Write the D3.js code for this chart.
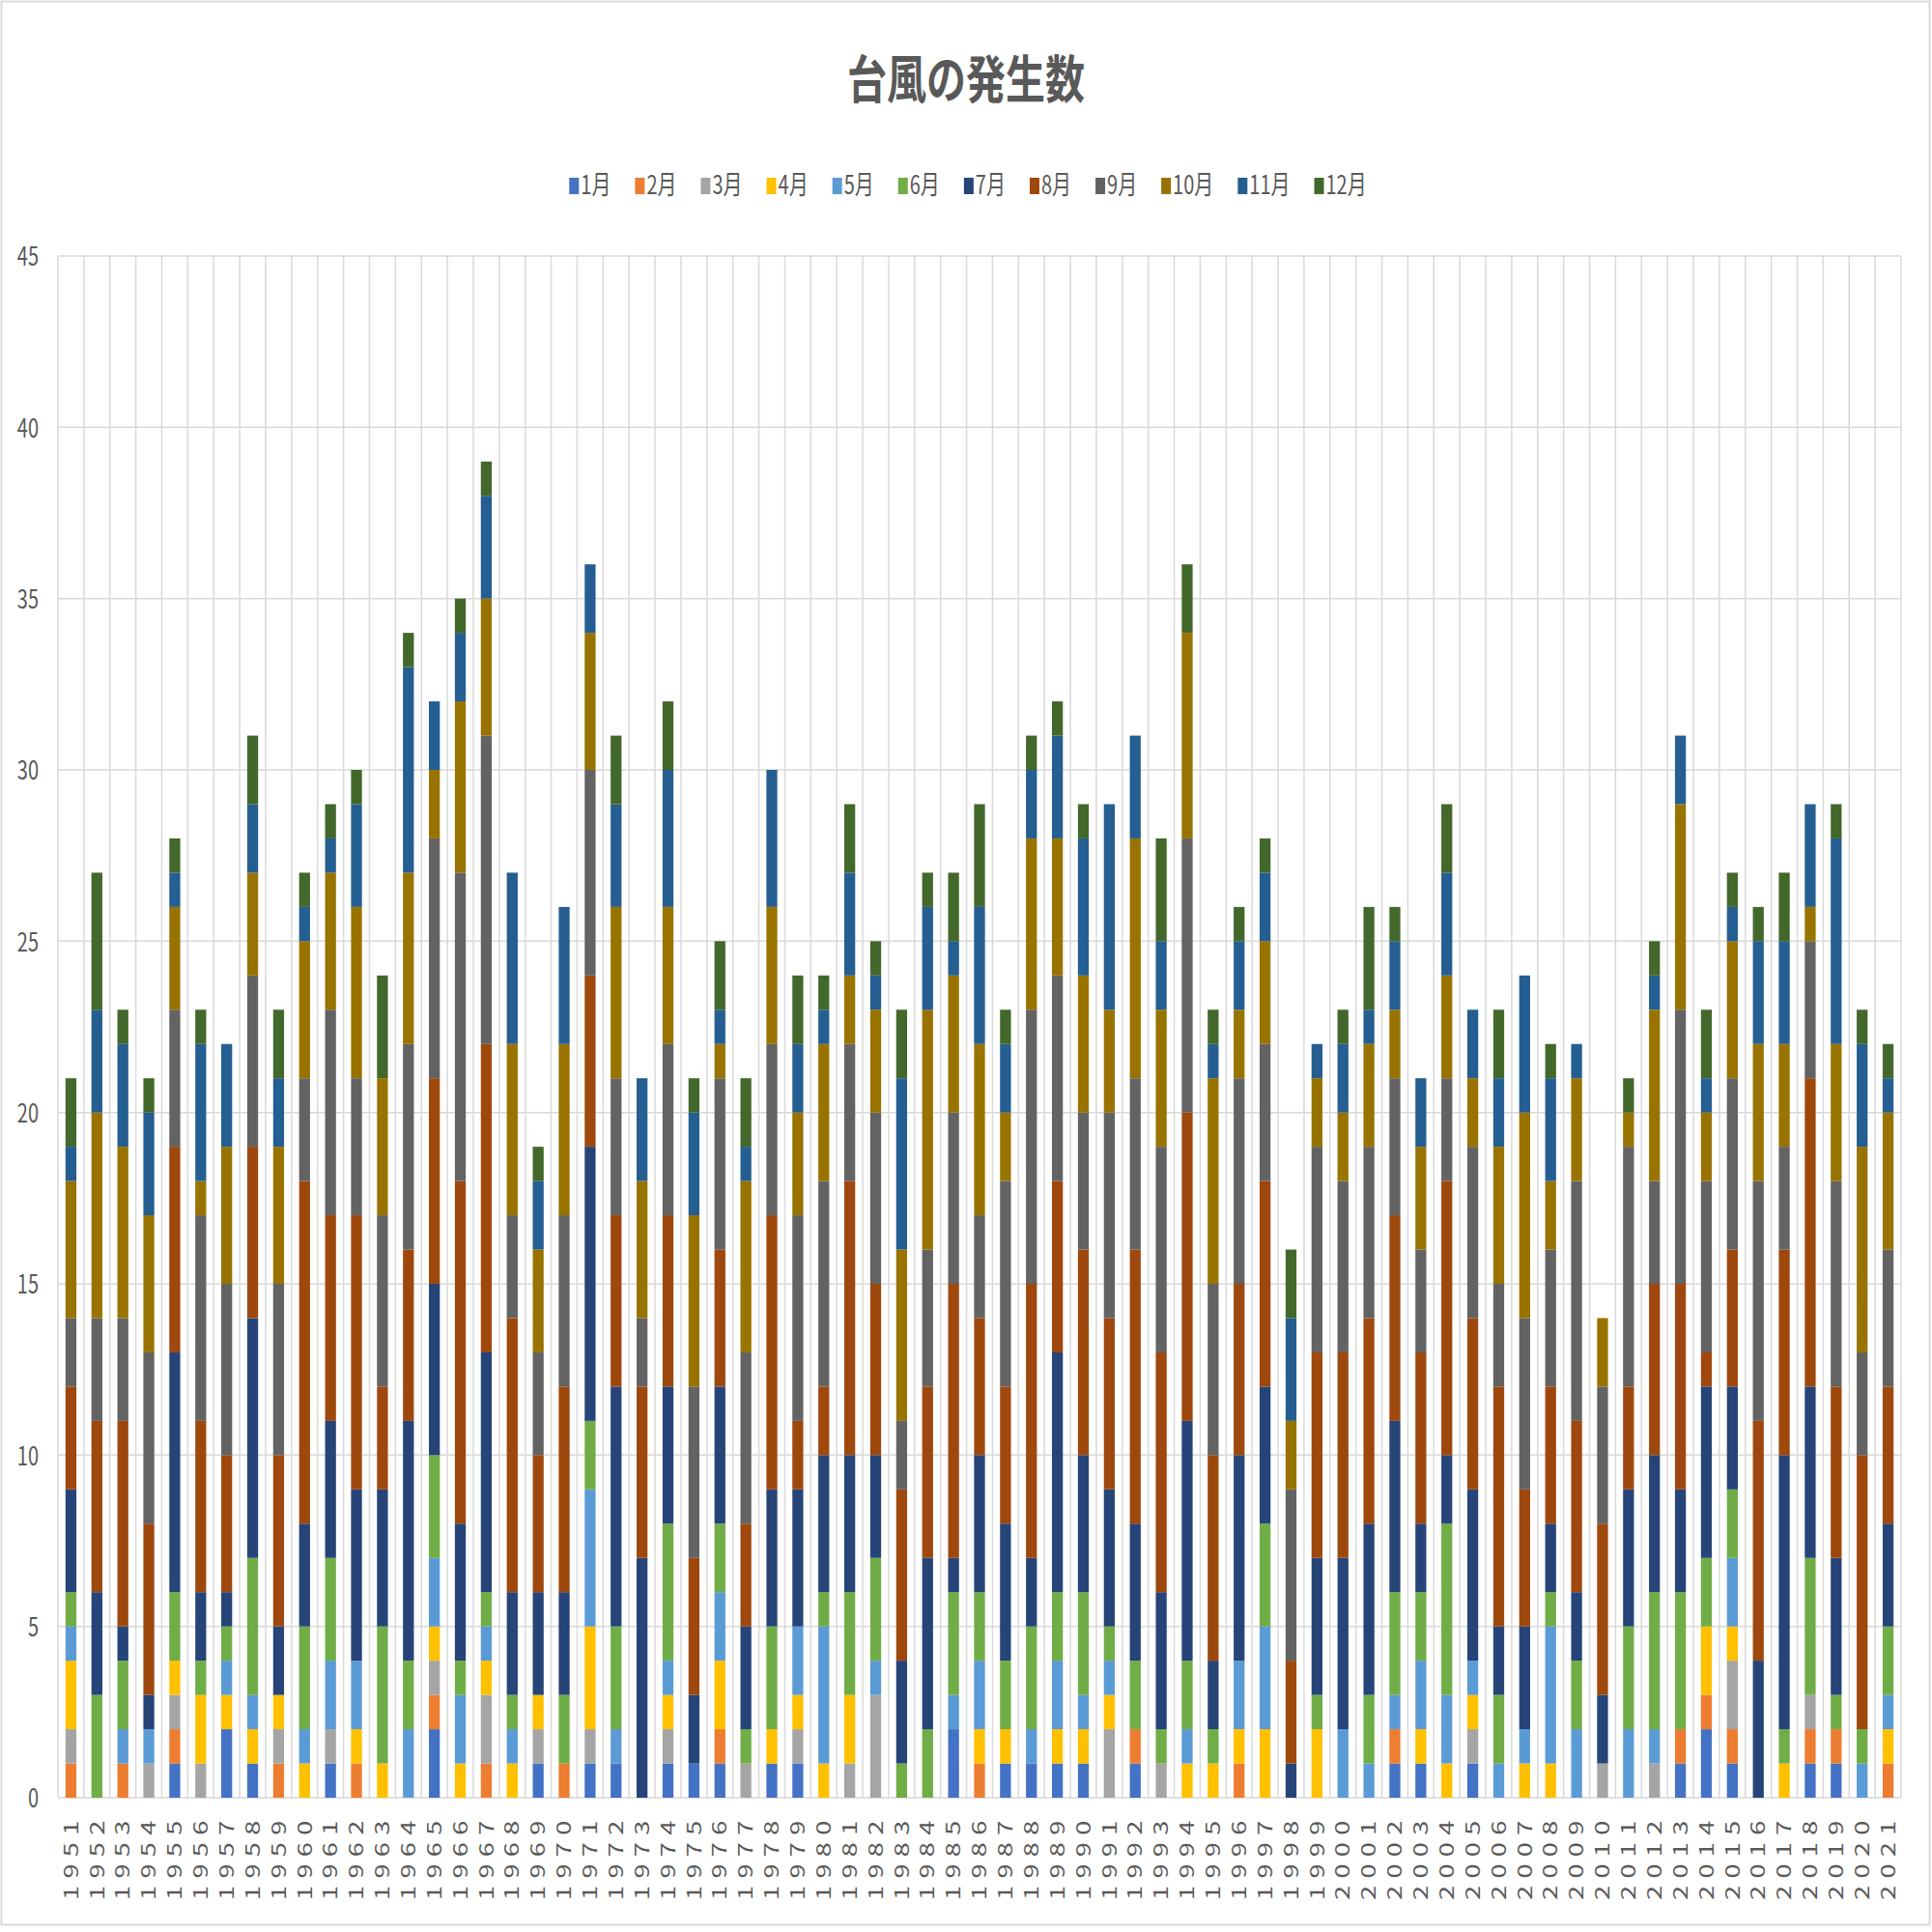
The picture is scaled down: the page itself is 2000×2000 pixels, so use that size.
<!DOCTYPE html>
<html lang="ja">
<head>
<meta charset="utf-8">
<title>台風の発生数</title>
<script src="https://cdn.jsdelivr.net/npm/d3@7"></script>
<style>
  html, body { margin: 0; padding: 0; background: #fff; }
  svg { display: block; }
  text { font-family: "Noto Sans CJK JP", "Noto Sans", sans-serif; fill: #595959; }
</style>
</head>
<body>
<svg id="chart" width="2000" height="2000"></svg>
<script>
'use strict';

// categories
var years = d3.range(1951, 2022).map(String);
var months = ['1月', '2月', '3月', '4月', '5月', '6月', '7月', '8月', '9月', '10月', '11月', '12月'];
var colors = ['#4472C4', '#ED7D31', '#A5A5A5', '#FFC000', '#5B9BD5', '#70AD47',
              '#264478', '#9E480E', '#636363', '#997300', '#255E91', '#43682B'];
var yTicks = [0, 5, 10, 15, 20, 25, 30, 35, 40, 45];

// typhoon counts, one row per year (1951..2021), columns Jan..Dec
var counts = [
  [0,1,1,2,1,1,3,3,2,4,1,2], // 1951
  [0,0,0,0,0,3,3,5,3,6,3,4],
  [0,1,0,0,1,2,1,6,3,5,3,1],
  [0,0,1,0,1,0,1,5,5,4,3,1],
  [1,1,1,1,0,2,7,6,4,3,1,1],
  [0,0,1,2,0,1,2,5,6,1,4,1],
  [2,0,0,1,1,1,1,4,5,4,3,0],
  [1,0,0,1,1,4,7,5,5,3,2,2],
  [0,1,1,1,0,0,2,5,5,4,2,2],
  [0,0,0,1,1,3,3,10,3,4,1,1], // 1960
  [1,0,1,0,2,3,4,6,6,4,1,1],
  [0,1,0,1,2,0,5,8,4,5,3,1],
  [0,0,0,1,0,4,4,3,5,4,0,3],
  [0,0,0,0,2,2,7,5,6,5,6,1],
  [2,1,1,1,2,3,5,6,7,2,2,0],
  [0,0,0,1,2,1,4,10,9,5,2,1],
  [0,1,2,1,1,1,7,9,9,4,3,1],
  [0,0,0,1,1,1,3,8,3,5,5,0],
  [1,0,1,1,0,0,3,4,3,3,2,1],
  [0,1,0,0,0,2,3,6,5,5,4,0], // 1970
  [1,0,1,3,4,2,8,5,6,4,2,0],
  [1,0,0,0,1,3,7,5,4,5,3,2],
  [0,0,0,0,0,0,7,5,2,4,3,0],
  [1,0,1,1,1,4,4,5,5,4,4,2],
  [1,0,0,0,0,0,2,4,5,5,3,1],
  [1,1,0,2,2,2,4,4,5,1,1,2],
  [0,0,1,0,0,1,3,3,5,5,1,2],
  [1,0,0,1,0,3,4,8,5,4,4,0],
  [1,0,1,1,2,0,4,2,6,3,2,2],
  [0,0,0,1,4,1,4,2,6,4,1,1], // 1980
  [0,0,1,2,0,3,4,8,4,2,3,2],
  [0,0,3,0,1,3,3,5,5,3,1,1],
  [0,0,0,0,0,1,3,5,2,5,5,2],
  [0,0,0,0,0,2,5,5,4,7,3,1],
  [2,0,0,0,1,3,1,8,5,4,1,2],
  [0,1,0,1,2,2,4,4,3,5,4,3],
  [1,0,0,1,0,2,4,4,6,2,2,1],
  [1,0,0,0,1,3,2,8,8,5,2,1],
  [1,0,0,1,2,2,7,5,6,4,3,1],
  [1,0,0,1,1,3,4,6,4,4,4,1], // 1990
  [0,0,2,1,1,1,4,5,6,3,6,0],
  [1,1,0,0,0,2,4,8,5,7,3,0],
  [0,0,1,0,0,1,4,7,6,4,2,3],
  [0,0,0,1,1,2,7,9,8,6,0,2],
  [0,0,0,1,0,1,2,6,5,6,1,1],
  [0,1,0,1,2,0,6,5,6,2,2,1],
  [0,0,0,2,3,3,4,6,4,3,2,1],
  [0,0,0,0,0,0,1,3,5,2,3,2],
  [0,0,0,2,0,1,4,6,6,2,1,0],
  [0,0,0,0,2,0,5,6,5,2,2,1], // 2000
  [0,0,0,0,1,2,5,6,5,3,1,3],
  [1,1,0,0,1,3,5,6,4,2,2,1],
  [1,0,0,1,2,2,2,5,3,3,2,0],
  [0,0,0,1,2,5,2,8,3,3,3,2],
  [1,0,1,1,1,0,5,5,5,2,2,0],
  [0,0,0,0,1,2,2,7,3,4,2,2],
  [0,0,0,1,1,0,3,4,5,6,4,0],
  [0,0,0,1,4,1,2,4,4,2,3,1],
  [0,0,0,0,2,2,2,5,7,3,1,0],
  [0,0,1,0,0,0,2,5,4,2,0,0], // 2010
  [0,0,0,0,2,3,4,3,7,1,0,1],
  [0,0,1,0,1,4,4,5,3,5,1,1],
  [1,1,0,0,0,4,3,6,8,6,2,0],
  [2,1,0,2,0,2,5,1,5,2,1,2],
  [1,1,2,1,2,2,3,4,5,4,1,1],
  [0,0,0,0,0,0,4,7,7,4,3,1],
  [0,0,0,1,0,1,8,6,3,3,3,2],
  [1,1,1,0,0,4,5,9,4,1,3,0],
  [1,1,0,0,0,1,4,5,6,4,6,1],
  [0,0,0,0,1,1,0,8,3,6,3,1], // 2020
  [0,1,0,1,1,2,3,4,4,4,1,1]
];

var W = 2000, H = 2000;
var plot = { left: 60, right: 1968, top: 265, bottom: 1861 };
var STRETCH = 1.35;     // the original picture is taller than it is wide
var GRID = '#d9d9d9';

var svg = d3.select('#chart');

svg.append('rect')
  .attr('width', W).attr('height', H)
  .attr('fill', '#fff');
svg.append('rect')
  .attr('x', 1.5).attr('y', 1.5)
  .attr('width', W - 4).attr('height', H - 9)
  .attr('fill', 'none')
  .attr('stroke', GRID)
  .attr('stroke-width', 2);

var rows = counts.map(function(c, i) {
  var r = { year: years[i] };
  months.forEach(function(m, j) { r[m] = c[j]; });
  return r;
});
var series = d3.stack().keys(months)(rows);

var x = d3.scaleBand()
  .domain(years)
  .range([plot.left, plot.right])
  .paddingInner(0.58)
  .paddingOuter(0.29);
var y = d3.scaleLinear()
  .domain([0, 45])
  .range([plot.bottom, plot.top]);
var color = d3.scaleOrdinal().domain(months).range(colors);

// gridlines
var grid = svg.append('g').attr('stroke', GRID).attr('stroke-width', 1.5);
grid.selectAll('line.h')
  .data(yTicks)
  .join('line')
  .attr('class', 'h')
  .attr('x1', plot.left).attr('x2', plot.right)
  .attr('y1', function(d) { return y(d); })
  .attr('y2', function(d) { return y(d); });

var edge = x.step() * x.paddingOuter();
var cellEdges = years.map(function(d) { return x(d) - edge; }).concat([plot.right]);
grid.selectAll('line.v')
  .data(cellEdges)
  .join('line')
  .attr('class', 'v')
  .attr('x1', function(d) { return d; }).attr('x2', function(d) { return d; })
  .attr('y1', plot.top).attr('y2', plot.bottom);

// bars
svg.append('g')
  .selectAll('g')
  .data(series)
  .join('g')
  .attr('fill', function(d) { return color(d.key); })
  .selectAll('rect')
  .data(function(d) { return d.filter(function(p) { return p[1] > p[0]; }); })
  .join('rect')
  .attr('x', function(d) { return x(d.data.year); })
  .attr('y', function(d) { return y(d[1]); })
  .attr('width', x.bandwidth())
  .attr('height', function(d) { return y(d[0]) - y(d[1]); });

// y axis
var yAxis = svg.append('g')
  .attr('transform', 'translate(' + plot.left + ',0)')
  .call(d3.axisLeft(y).tickValues(yTicks).tickSize(0).tickPadding(20));
yAxis.select('.domain').remove();
yAxis.attr('font-size', 20).attr('font-family', null);
yAxis.selectAll('text')
  .attr('dy', '0.36em')
  .attr('transform', 'scale(1,' + STRETCH + ')');

// x axis, labels read bottom to top
var xAxis = svg.append('g')
  .attr('transform', 'translate(0,' + plot.bottom + ')')
  .call(d3.axisBottom(x).tickSize(0));
xAxis.select('.domain').remove();
xAxis.attr('font-size', 20).attr('font-family', null);
xAxis.selectAll('text')
  .attr('y', null)
  .attr('dy', '0.36em')
  .attr('text-anchor', 'start')
  .attr('letter-spacing', 5.5)
  .attr('transform', 'translate(0,106) scale(1,' + STRETCH + ') rotate(-90)');

// title
svg.append('text')
  .attr('transform', 'translate(1000,102) scale(1,1.3)')
  .attr('text-anchor', 'middle')
  .attr('font-size', 41)
  .attr('font-weight', 'bold')
  .text('台風の発生数');

// legend
var legend = svg.append('g');
var items = legend.selectAll('g')
  .data(months)
  .join('g');
items.append('rect')
  .attr('y', 184)
  .attr('width', 10)
  .attr('height', 17)
  .attr('fill', function(d) { return color(d); });
items.append('text')
  .attr('x', 12)
  .attr('transform', 'translate(0,201) scale(1,' + STRETCH + ')')
  .attr('font-size', 20)
  .text(function(d) { return d; });

var pos = 0, offsets = [];
items.each(function() {
  offsets.push(pos);
  pos += 12 + this.querySelector('text').getComputedTextLength() + 25;
});
var legendWidth = pos - 25;
var legendLeft = 1002 - legendWidth / 2;
items.attr('transform', function(d, i) { return 'translate(' + (legendLeft + offsets[i]) + ',0)'; });
</script>
</body>
</html>
